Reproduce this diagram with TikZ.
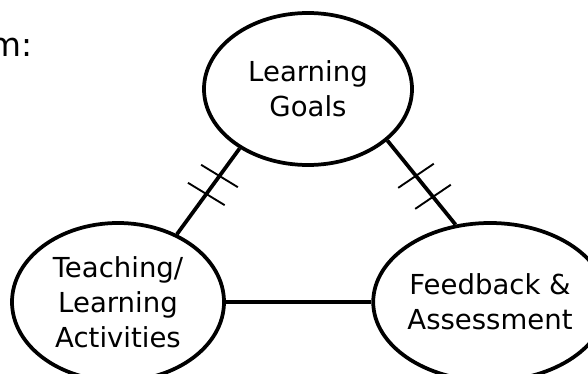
\documentclass[tikz,border=0pt]{standalone}
\usepackage{fontspec}
\setmainfont{DejaVu Sans}
\usetikzlibrary{shapes.geometric, decorations.markings}

\begin{document}
\begin{tikzpicture}[
  topic/.style={draw=black, line width=3.2pt, shape=ellipse, inner sep=0pt, align=center, font=\fontsize{23.5}{30}\selectfont},
  link/.style={draw=black, line width=3.2pt},
  hatch/.style={draw=black, line width=1.6pt},
  doubletick/.style n args={3}{decoration={markings,
      mark=at position #1 with {\draw[hatch, rotate=#3] (0,-0.645) -- (0,0.645);},
      mark=at position #2 with {\draw[hatch, rotate=#3] (0,-0.645) -- (0,0.645);}},
    postaction=decorate}
]
	\useasboundingbox (0,0) rectangle (17.64,11.19);

%------------- Heading (cut off at the left)
	\node[anchor=base east, inner sep=0pt, font=\fontsize{28}{34}\selectfont] (Heading) at (0.99, 9.48) {m:};

%------------- Topics
	\node[topic, minimum width=6.24cm, minimum height=4.56cm] (Goals) at (9.24, 8.52) {Learning\\Goals};
	\node[topic, minimum width=6.36cm, minimum height=4.74cm] (Activities) at (3.54, 2.13) {Teaching/\\Learning\\Activities};
	\node[topic, minimum width=6.30cm, minimum height=4.74cm] (Feedback) at (14.70, 2.13) {Feedback \&\\Assessment};

%------------- Links
	\draw[link, doubletick={0.47}{0.68}{4.8}] (Activities.49.6) -- (Goals.221.9);
	\draw[link, doubletick={0.42}{0.67}{-4.9}] (Goals.327.1) -- (Feedback.114.7);
	\draw[link] (Activities.east) -- (Feedback.west);

\end{tikzpicture}
\end{document}
